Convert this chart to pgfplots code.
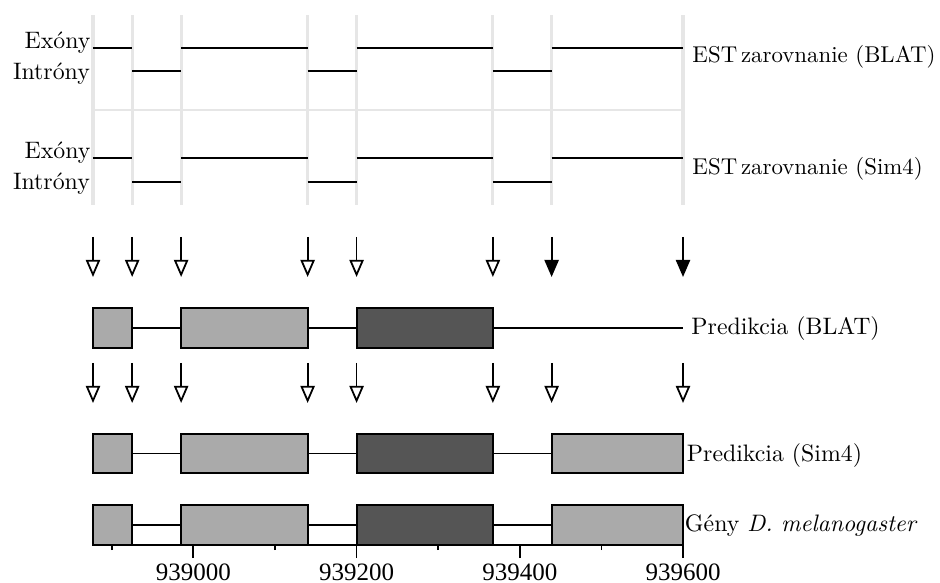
\documentclass[border=0pt]{standalone}
\usepackage{fontspec}
\usepackage{pgfplots}
\pgfplotsset{compat=1.18}
\usetikzlibrary{arrows.meta}
\newfontfamily\tickfont{Liberation Serif}
\definecolor{gridgray}{HTML}{E6E6E6}
\definecolor{exlight}{HTML}{AAAAAA}
\definecolor{exdark}{HTML}{555555}

% 1 px of the reference = 0.42pt
\def\px{0.42pt}

\begin{document}
\begin{tikzpicture}
\begin{axis}[
  scale only axis,
  width=590*\px, height=545*\px,
  xmin=938877, xmax=939600,
  ymin=38, ymax=583,
  axis x line*=bottom, hide y axis,
  clip=false, no markers,
  xtick={939000,939200,939400,939600},
  xticklabels={939000,939200,939400,939600},
  minor xtick={938900,939100,939300,939500},
  tick align=outside,
  major tick length=5.5pt, minor tick length=2.2pt,
  tick style={black,line width=0.75pt},
  axis line style={black,line width=0.75pt},
  scaled x ticks=false,
  xticklabel style={font=\tickfont\fontsize{10.5}{12}\selectfont,inner sep=0pt,yshift=-2.2pt},
]
% light grid lines behind the EST tracks
\addplot[gridgray,line width=1.3pt,unbounded coords=jump] coordinates {
  (938877,378) (938877,568) (938925,nan)
  (938925,378) (938925,568) (938985,nan)
  (938985,378) (938985,568) (939140,nan)
  (939140,378) (939140,568) (939200,nan)
  (939200,378) (939200,568) (939367,nan)
  (939367,378) (939367,568) (939439,nan)
  (939439,378) (939439,568)};
\addplot[gridgray,line width=1.9pt] coordinates {(939600,378) (939600,568)};
\addplot[gridgray,line width=0.8pt] coordinates {(938877,473) (939600,473)};

% EST alignment (BLAT)
\addplot[black,line width=0.8pt,unbounded coords=jump] coordinates {
  (938877,535.3) (938925,535.3) (938950,nan)
  (938985,535.3) (939140,535.3) (939170,nan)
  (939200,535.3) (939367,535.3) (939400,nan)
  (939439,535.3) (939600,535.3)};
\addplot[black,line width=0.8pt,unbounded coords=jump] coordinates {
  (938925,512) (938985,512) (939000,nan)
  (939140,512) (939200,512) (939300,nan)
  (939367,512) (939439,512)};
% EST alignment (Sim4)
\addplot[black,line width=0.8pt,unbounded coords=jump] coordinates {
  (938877,425.3) (938925,425.3) (938950,nan)
  (938985,425.3) (939140,425.3) (939170,nan)
  (939200,425.3) (939367,425.3) (939400,nan)
  (939439,425.3) (939600,425.3)};
\addplot[black,line width=0.8pt,unbounded coords=jump] coordinates {
  (938925,401.3) (938985,401.3) (939000,nan)
  (939140,401.3) (939200,401.3) (939300,nan)
  (939367,401.3) (939439,401.3)};

% splice-site arrows
\addplot[black,line width=0.75pt,quiver={u=0,v=-40},
  -{Triangle[open,fill=white,length=7.2pt,width=6pt]}] coordinates {
  (938877,346) (938925,346) (938985,346) (939140,346) (939200,346) (939367,346)};
\addplot[black,line width=0.75pt,quiver={u=0,v=-40},
  -{Triangle[length=7.2pt,width=6pt]}] coordinates {
  (939439,346) (939600,346)};
\addplot[black,line width=0.75pt,quiver={u=0,v=-40},
  -{Triangle[open,fill=white,length=7.2pt,width=6pt]}] coordinates {
  (938877,220) (938925,220) (938985,220) (939140,220) (939200,220)
  (939367,220) (939439,220) (939600,220)};

% Predikcia (BLAT)
\addplot[black,line width=0.8pt,unbounded coords=jump] coordinates {
  (938925,255) (938985,255) (939000,nan) (939140,255) (939200,255) (939300,nan)
  (939367,255) (939600,255)};
\addplot[draw=black,line width=0.9pt,fill=exlight] coordinates {(938877,235.3) (938925,235.3) (938925,275) (938877,275)} --cycle;
\addplot[draw=black,line width=0.9pt,fill=exlight] coordinates {(938985,235.3) (939140,235.3) (939140,275) (938985,275)} --cycle;
\addplot[draw=black,line width=0.9pt,fill=exdark] coordinates {(939200,235.3) (939367,235.3) (939367,275) (939200,275)} --cycle;

% Predikcia (Sim4)
\addplot[black,line width=0.8pt,unbounded coords=jump] coordinates {
  (938925,129.5) (938985,129.5) (939000,nan) (939140,129.5) (939200,129.5) (939300,nan)
  (939367,129.5) (939439,129.5)};
\addplot[draw=black,line width=0.9pt,fill=exlight] coordinates {(938877,110) (938925,110) (938925,149) (938877,149)} --cycle;
\addplot[draw=black,line width=0.9pt,fill=exlight] coordinates {(938985,110) (939140,110) (939140,149) (938985,149)} --cycle;
\addplot[draw=black,line width=0.9pt,fill=exdark] coordinates {(939200,110) (939367,110) (939367,149) (939200,149)} --cycle;
\addplot[draw=black,line width=0.9pt,fill=exlight] coordinates {(939439,110) (939600,110) (939600,149) (939439,149)} --cycle;

% Gény D. melanogaster
\addplot[black,line width=0.8pt,unbounded coords=jump] coordinates {
  (938925,58) (938985,58) (939000,nan) (939140,58) (939200,58) (939300,nan)
  (939367,58) (939439,58)};
\addplot[draw=black,line width=0.9pt,fill=exlight] coordinates {(938877,38) (938925,38) (938925,78) (938877,78)} --cycle;
\addplot[draw=black,line width=0.9pt,fill=exlight] coordinates {(938985,38) (939140,38) (939140,78) (938985,78)} --cycle;
\addplot[draw=black,line width=0.9pt,fill=exdark] coordinates {(939200,38) (939367,38) (939367,78) (939200,78)} --cycle;
\addplot[draw=black,line width=0.9pt,fill=exlight] coordinates {(939439,38) (939600,38) (939600,78) (939439,78)} --cycle;

% track labels
\node[anchor=base east,inner sep=0,xshift=-2*\px] at (axis cs:938877,534.7) {Exóny};
\node[anchor=base east,inner sep=0,xshift=-2.7*\px] at (axis cs:938877,503) {Intróny};
\node[anchor=base east,inner sep=0,xshift=-2*\px] at (axis cs:938877,424.7) {Exóny};
\node[anchor=base east,inner sep=0,xshift=-2.7*\px] at (axis cs:938877,393) {Intróny};
\node[anchor=base west,inner sep=0,xshift=9*\px,font=\fontsize{9.6}{11}\selectfont] at (axis cs:939600,520) {EST\,zarovnanie (BLAT)};
\node[anchor=base west,inner sep=0,xshift=9*\px,font=\fontsize{9.6}{11}\selectfont] at (axis cs:939600,408) {EST\,zarovnanie (Sim4)};
\node[anchor=base west,inner sep=0,xshift=8*\px] at (axis cs:939600,248) {Predikcia (BLAT)};
\node[anchor=base west,inner sep=0,xshift=3.5*\px] at (axis cs:939600,121.3) {Predikcia (Sim4)};
\node[anchor=base west,inner sep=0,xshift=1.5*\px] at (axis cs:939600,51.3) {Gény \textit{D. melanogaster}};
\end{axis}
\pgfresetboundingbox
\path[use as bounding box] (-93*\px,-38*\px) rectangle (847*\px,545*\px);
\end{tikzpicture}
\end{document}
